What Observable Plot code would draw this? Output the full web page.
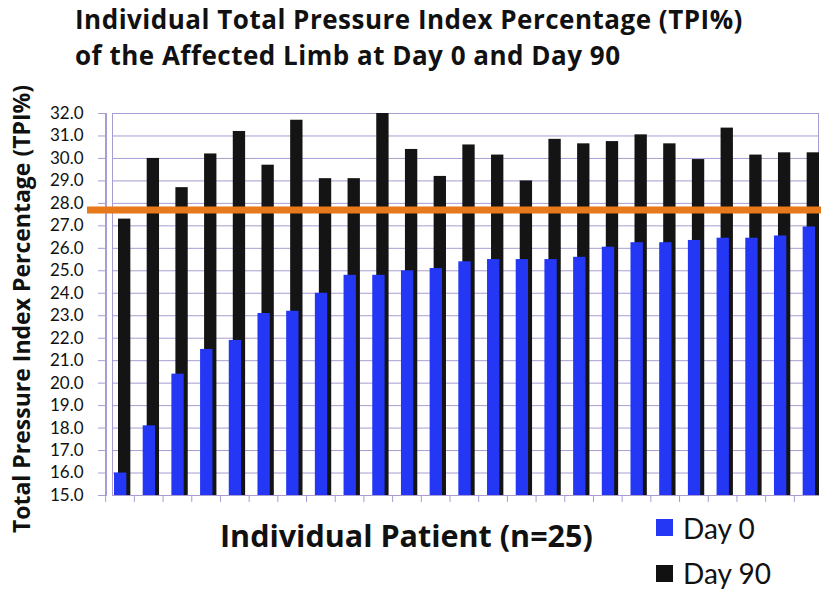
<!DOCTYPE html>
<html>
<head>
<meta charset="utf-8">
<script src="https://cdn.jsdelivr.net/npm/d3@7"></script>
<script src="https://cdn.jsdelivr.net/npm/@observablehq/plot@0.6"></script>
<style>
  html, body { margin: 0; padding: 0; background: #fff; }
  #wrap { position: relative; width: 827px; height: 595px; overflow: hidden; font-family: Lato, "Open Sans", sans-serif; color: #111; }
  #wrap svg { position: absolute; left: 0; top: 0; }
  .t { position: absolute; white-space: nowrap; font-family: "Open Sans", sans-serif; font-weight: bold; }
  #title { left: 75px; top: 1px; font-size: 26px; line-height: 36.4px; letter-spacing: 0.5px; }
  #ylabel { left: 21px; top: 309px; font-size: 23px; line-height: 1; transform: translate(-50%, -50%) rotate(-90deg); }
  #xlabel { left: 220px; top: 520px; font-size: 30.5px; line-height: 1; }
  .lg { position: absolute; font-size: 28px; line-height: 28px; }
  .sw { position: absolute; width: 17px; height: 17px; }
</style>
</head>
<body>
<div id="wrap">
  <div class="t" id="title">Individual Total Pressure Index Percentage (TPI%)<br>of the Affected Limb at Day 0 and Day 90</div>
  <div class="t" id="ylabel">Total Pressure Index Percentage (TPI%)</div>
  <div class="t" id="xlabel">Individual Patient (n=25)</div>
  <div class="sw" style="left:656px; top:519px; background:#2337f5;"></div>
  <div class="lg" style="left:683px; top:514px;">Day 0</div>
  <div class="sw" style="left:656px; top:565px; background:#111;"></div>
  <div class="lg" style="left:683px; top:559px;">Day 90</div>
</div>
<script>
const patients = d3.range(1, 26);
const day0 = [16.0, 18.1, 20.4, 21.5, 21.9, 23.1, 23.2, 24.0, 24.8, 24.8, 25.0, 25.1, 25.4,
              25.5, 25.5, 25.5, 25.6, 26.05, 26.25, 26.25, 26.35, 26.45, 26.45, 26.55, 26.95];
const day90 = [27.3, 30.0, 28.7, 30.2, 31.2, 29.7, 31.7, 29.1, 29.1, 32.0, 30.4, 29.2, 30.6,
               30.15, 29.0, 30.85, 30.65, 30.75, 31.05, 30.65, 29.95, 31.35, 30.15, 30.25, 30.25];
const threshold = 27.7;
const yTicks = d3.range(15, 32.5, 1);

const rows = patients.map((p, i) => ({patient: p, day0: day0[i], day90: day90[i]}));
const grid = "#a99cd2";

const chart = Plot.plot({
  width: 827,
  height: 595,
  marginLeft: 105,
  marginRight: 9,
  marginTop: 113,
  marginBottom: 100,
  style: {fontFamily: "Lato, 'Open Sans', sans-serif", background: "transparent"},
  x: {type: "band", domain: patients, range: [114, 815], paddingInner: 0.57, paddingOuter: 0, round: false, axis: null},
  y: {domain: [15, 32], axis: null},
  marks: [
    Plot.gridY(yTicks, {stroke: grid, strokeOpacity: 1, insetLeft: 7}),
    Plot.frame({stroke: grid, insetLeft: 7}),
    Plot.frame({stroke: grid, insetRight: 712}),
    Plot.barY(rows, {x: "patient", y1: 15, y2: "day90", fill: "#141414", dx: 4}),
    Plot.barY(rows, {x: "patient", y1: 15, y2: "day0", fill: "#2337f5"}),
    Plot.ruleY([threshold], {stroke: "#e8791b", strokeWidth: 7, insetLeft: -18, insetRight: -3}),
    Plot.axisX(patients, {tickSize: 7, tickFormat: () => "", stroke: grid, dx: -15, label: null}),
    Plot.axisY(yTicks, {tickSize: 7, tickPadding: 15, fontSize: 17, tickFormat: d3.format(".1f"), stroke: grid, fill: "#111", label: null})
  ]
});
document.getElementById("wrap").prepend(chart);
</script>
</body>
</html>
